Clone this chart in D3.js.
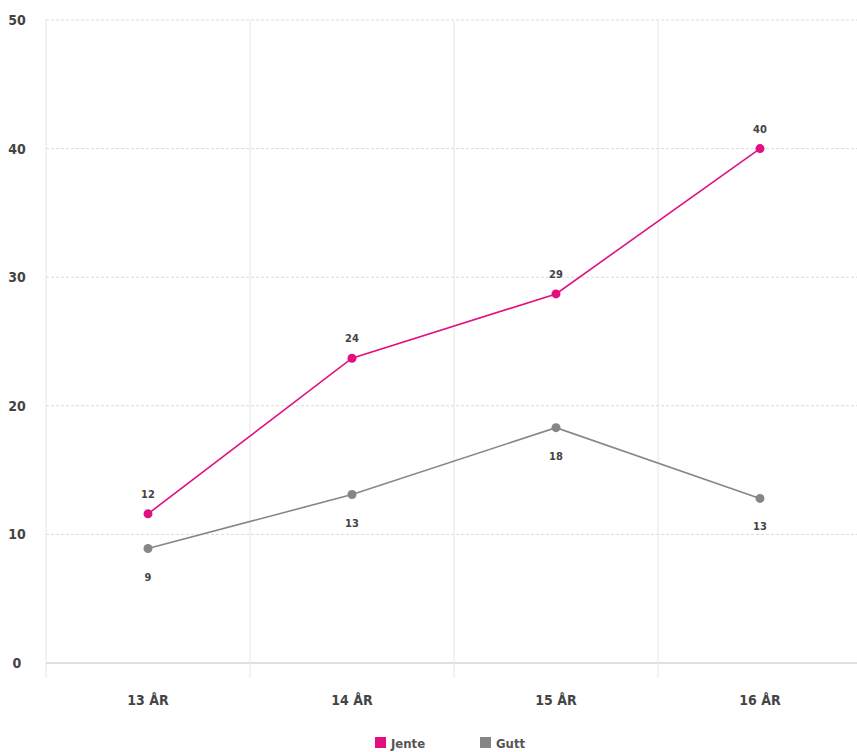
<!DOCTYPE html>
<html><head><meta charset="utf-8">
<script src="https://cdn.jsdelivr.net/npm/d3@7"></script>
<style>
html,body{margin:0;padding:0;background:#fff;}
text{font-family:"Liberation Sans Narrow","DejaVu Sans Condensed",sans-serif;font-weight:bold;}
</style></head>
<body>
<svg id="chart" width="857" height="752"></svg>
<script>
const categories = ["13 ÅR","14 ÅR","15 ÅR","16 ÅR"];
const jente = [11.6, 23.7, 28.7, 40.0];
const gutt = [8.9, 13.1, 18.3, 12.8];
const yTicks = [0,10,20,30,40,50];
const seriesNames = ["Jente","Gutt"];
const colors = ["#e2107f","#868686"];

const svg = d3.select("#chart");
const x = d3.scaleBand().domain(categories).range([46, 862]);
const y = d3.scaleLinear().domain([0,50]).range([663, 20]);

// horizontal grid
svg.append("g").selectAll("line").data(yTicks).join("line")
  .attr("x1", 46).attr("x2", 857)
  .attr("y1", d=>y(d)).attr("y2", d=>y(d))
  .attr("stroke", d=> d===0 ? "#d6d6d6" : "#d9d9d9")
  .attr("stroke-width", d=> d===0 ? 1.5 : 1)
  .attr("stroke-dasharray", d=> d===0 ? null : "3,2");

// vertical grid (band boundaries)
const bounds = categories.map(c=>x(c)).concat([x.range()[1]]);
svg.append("g").selectAll("line").data(bounds).join("line")
  .attr("x1", d=>d).attr("x2", d=>d)
  .attr("y1", 20).attr("y2", 678)
  .attr("stroke", "#e6e6e6").attr("stroke-width", 1);

// y labels
svg.append("g").selectAll("text").data(yTicks).join("text")
  .attr("x", 17).attr("y", d=>y(d)+5)
  .attr("text-anchor","middle")
  .attr("font-size", 14).attr("fill","#444")
  .text(d=>d);

// x labels
svg.append("g").selectAll("text").data(categories).join("text")
  .attr("x", d=>x(d)+x.bandwidth()/2).attr("y", 705)
  .attr("text-anchor","middle")
  .attr("font-size", 14).attr("fill","#444")
  .text(d=>d);

const cx = d=>x(d)+x.bandwidth()/2;
const seriesData = [jente, gutt];
seriesData.forEach((vals,i)=>{
  const pts = categories.map((c,j)=>({c, v: vals[j]}));
  svg.append("path").datum(pts)
    .attr("fill","none").attr("stroke", colors[i]).attr("stroke-width", 1.6)
    .attr("d", d3.line().x(d=>cx(d.c)).y(d=>y(d.v)));
  svg.append("g").selectAll("circle").data(pts).join("circle")
    .attr("cx", d=>cx(d.c)).attr("cy", d=>y(d.v)).attr("r", 4.5)
    .attr("fill", colors[i]);
  svg.append("g").selectAll("text").data(pts).join("text")
    .attr("x", d=>cx(d.c)).attr("y", d=> i===0 ? y(d.v)-16 : y(d.v)+32)
    .attr("text-anchor","middle").attr("font-size", 11).attr("fill","#444")
    .text(d=>d3.format(".0f")(d.v));
});

// legend
const legX = [375, 480];
const leg = svg.append("g");
seriesNames.forEach((n,i)=>{
  leg.append("rect").attr("x", legX[i]).attr("y", 737).attr("width", 11).attr("height", 11).attr("fill", colors[i]);
  leg.append("text").attr("x", legX[i]+16).attr("y", 748).attr("font-size", 13).attr("fill","#555").text(n);
});
</script>
</body></html>
